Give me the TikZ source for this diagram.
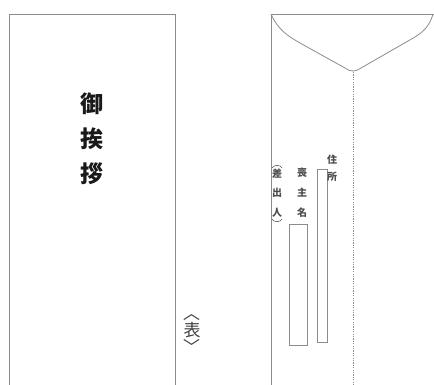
\documentclass[tikz,border=0pt]{standalone}
\usepackage{fontspec}
\newfontfamily\jp{Noto Sans CJK JP}
\begin{document}
\begin{tikzpicture}[x=1pt,y=-1pt,
  edge/.style={draw=black!45,line width=0.8pt},
  big/.style={font=\jp\bfseries\fontsize{23}{23}\selectfont,inner sep=0pt,text=black!90},
  mid/.style={font=\jp\fontsize{17}{17}\selectfont,inner sep=0pt,text=black!75},
  small/.style={font=\jp\bfseries\fontsize{10}{10}\selectfont,inner sep=0pt,text=black!70}]
\useasboundingbox (0,0) rectangle (434,385);
% front envelope
\coordinate (fbl) at (9,386);
\coordinate (ftl) at (9,14);
\coordinate (ftr) at (175,14);
\coordinate (fbr) at (175,386);
\draw[edge] (fbl) -- (ftl) -- (ftr) -- (fbr);
\node[big] (o1) at (92,104) {御};
\node[big] (o2) at (92,139) {挨};
\node[big] (o3) at (92,174) {拶};
% label
\node[mid,rotate=-90] (lb1) at (192,313) {〈};
\node[mid] (lb2) at (192,330) {表};
\node[mid,rotate=-90] (lb3) at (192,347) {〉};
% back envelope
\coordinate (bbl) at (271,386);
\coordinate (btl) at (271,14);
\coordinate (btr) at (434,14);
\coordinate (tip) at (353,72);
\coordinate (dbot) at (353,386);
\draw[edge] (bbl) -- (btl) -- (btr);
\draw[edge] (btl) .. controls (278,30) and (288,36) .. (300,43) -- (345,68)
  .. controls (350,72) and (356,72) .. (361,68) -- (415,37) .. controls (426,30) and (430,24) .. (433,14);
\draw[draw=black!45,line width=0.9pt,dash pattern=on 1.2pt off 1.2pt] (tip) -- (dbot);
% boxes
\node[edge,minimum width=10pt,minimum height=173pt,inner sep=0pt] (addr) at (322,255.5) {};
\node[edge,minimum width=18pt,minimum height=121pt,inner sep=0pt] (name) at (298,284.5) {};
% small texts
\node[small] (j1) at (332,160) {住};
\node[small] (j2) at (332,177) {所};
\node[small] (m1) at (302,173) {喪};
\node[small] (m2) at (302,193) {主};
\node[small] (m3) at (302,213) {名};
\node[small] (s1) at (277,174) {差};
\node[small] (s2) at (277,193) {出};
\node[small] (s3) at (277,213) {人};
\draw[draw=black!65,line width=0.6pt] (272,168) .. controls (273.5,164.5) and (280.5,164.5) .. (282,168);
\draw[draw=black!65,line width=0.6pt] (272,219) .. controls (273.5,222.5) and (280.5,222.5) .. (282,219);
\end{tikzpicture}
\end{document}
